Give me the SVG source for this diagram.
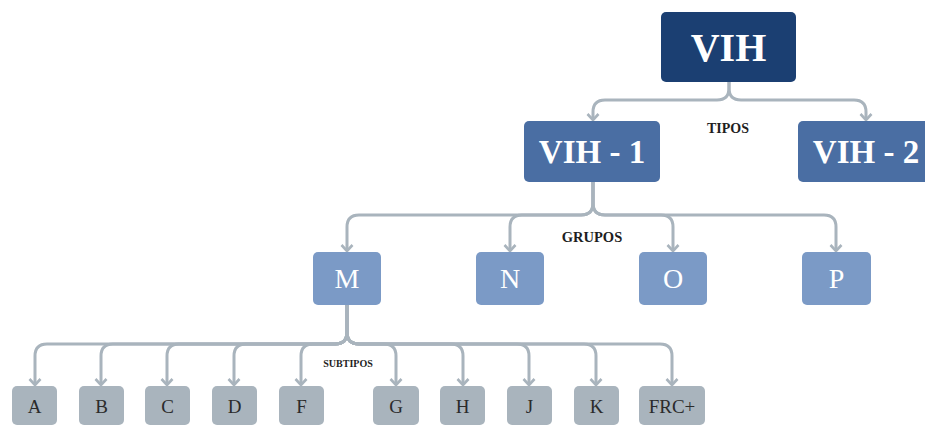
<svg xmlns="http://www.w3.org/2000/svg" width="925" height="426" viewBox="0 0 925 426">
<defs>
<marker id="arr" markerUnits="userSpaceOnUse" markerWidth="16" markerHeight="16" viewBox="-8 -8 16 16" refX="0" refY="0" orient="auto">
<path d="M-6,-5.5 L0,0 L-6,5.5" fill="none" stroke="#a9b4bd" stroke-width="2.6" stroke-linejoin="miter"/>
</marker>
</defs>
<style>
.c{fill:none;stroke:#a9b4bd;stroke-width:3;marker-end:url(#arr)}
.top{fill:#1b3f72}
.l1{fill:#4a6ea3}
.l2{fill:#7b9ac6}
.l3{fill:#a9b4bd}
.t{font-family:"Liberation Serif","DejaVu Serif",serif;text-anchor:middle}
.tw{fill:#ffffff}
.td{fill:#2b2b2b}
.lab{font-family:"Liberation Serif","DejaVu Serif",serif;font-weight:bold;fill:#1e1e1e;text-anchor:middle}
</style>
<g id="connectors">
<path class="c" d="M729,82 V88 Q729,100 717,100 H605 Q593,100 593,112 V120"/>
<path class="c" d="M729,82 V88 Q729,100 741,100 H854 Q866,100 866,112 V120"/>
<path class="c" d="M593,182 V203 Q593,215 581,215 H359 Q347,215 347,227 V251"/>
<path class="c" d="M593,182 V203 Q593,215 581,215 H522 Q510,215 510,227 V251"/>
<path class="c" d="M593,182 V203 Q593,215 605,215 H661 Q673,215 673,227 V251"/>
<path class="c" d="M593,182 V203 Q593,215 605,215 H824 Q836,215 836,227 V251"/>
<path class="c" d="M347,305 V332 Q347,344 335,344 H47 Q35,344 35,356 V385"/>
<path class="c" d="M347,305 V332 Q347,344 335,344 H113 Q101,344 101,356 V385"/>
<path class="c" d="M347,305 V332 Q347,344 335,344 H179 Q167,344 167,356 V385"/>
<path class="c" d="M347,305 V332 Q347,344 335,344 H246 Q234,344 234,356 V385"/>
<path class="c" d="M347,305 V332 Q347,344 335,344 H313 Q301,344 301,356 V385"/>
<path class="c" d="M347,305 V332 Q347,344 359,344 H384 Q396,344 396,356 V385"/>
<path class="c" d="M347,305 V332 Q347,344 359,344 H451 Q463,344 463,356 V385"/>
<path class="c" d="M347,305 V332 Q347,344 359,344 H517 Q529,344 529,356 V385"/>
<path class="c" d="M347,305 V332 Q347,344 359,344 H584 Q596,344 596,356 V385"/>
<path class="c" d="M347,305 V332 Q347,344 359,344 H660 Q672,344 672,356 V385"/>
</g>
<g id="labels">
<text class="lab" x="728" y="133" font-size="14">TIPOS</text>
<text class="lab" x="592" y="242" font-size="14.5">GRUPOS</text>
<text class="lab" x="348" y="367" font-size="10">SUBTIPOS</text>
</g>
<g id="n-vih"><rect class="top" x="661" y="12" width="135" height="70" rx="5"/><text class="t tw" x="728.5" y="61" font-size="40" font-weight="bold">VIH</text></g>
<g id="n-vih1"><rect class="l1" x="524" y="121" width="136" height="61" rx="5"/><text class="t tw" x="592" y="163" font-size="33" font-weight="bold">VIH - 1</text></g>
<g id="n-vih2"><rect class="l1" x="798" y="121" width="136" height="61" rx="5"/><text class="t tw" x="866" y="163" font-size="33" font-weight="bold">VIH - 2</text></g>
<g id="n-M"><rect class="l2" x="313" y="252" width="68" height="53" rx="5"/><text class="t tw" x="347" y="288" font-size="28">M</text></g>
<g id="n-N"><rect class="l2" x="476" y="252" width="68" height="53" rx="5"/><text class="t tw" x="510" y="288" font-size="28">N</text></g>
<g id="n-O"><rect class="l2" x="639" y="252" width="68" height="53" rx="5"/><text class="t tw" x="673" y="288" font-size="28">O</text></g>
<g id="n-P"><rect class="l2" x="802" y="252" width="69" height="53" rx="5"/><text class="t tw" x="836.5" y="288" font-size="28">P</text></g>
<g id="n-A"><rect class="l3" x="12" y="386" width="45" height="39" rx="5"/><text class="t td" x="34.5" y="413" font-size="19">A</text></g>
<g id="n-B"><rect class="l3" x="79" y="386" width="45" height="39" rx="5"/><text class="t td" x="101.5" y="413" font-size="19">B</text></g>
<g id="n-C"><rect class="l3" x="145" y="386" width="45" height="39" rx="5"/><text class="t td" x="167.5" y="413" font-size="19">C</text></g>
<g id="n-D"><rect class="l3" x="212" y="386" width="45" height="39" rx="5"/><text class="t td" x="234.5" y="413" font-size="19">D</text></g>
<g id="n-F"><rect class="l3" x="279" y="386" width="45" height="39" rx="5"/><text class="t td" x="301.5" y="413" font-size="19">F</text></g>
<g id="n-G"><rect class="l3" x="373" y="386" width="46" height="39" rx="5"/><text class="t td" x="396" y="413" font-size="19">G</text></g>
<g id="n-H"><rect class="l3" x="440" y="386" width="45" height="39" rx="5"/><text class="t td" x="462.5" y="413" font-size="19">H</text></g>
<g id="n-J"><rect class="l3" x="507" y="386" width="45" height="39" rx="5"/><text class="t td" x="529.5" y="413" font-size="19">J</text></g>
<g id="n-K"><rect class="l3" x="574" y="386" width="45" height="39" rx="5"/><text class="t td" x="596.5" y="413" font-size="19">K</text></g>
<g id="n-FRC"><rect class="l3" x="639" y="386" width="66" height="39" rx="5"/><text class="t td" x="672" y="413" font-size="19">FRC+</text></g>
</svg>
